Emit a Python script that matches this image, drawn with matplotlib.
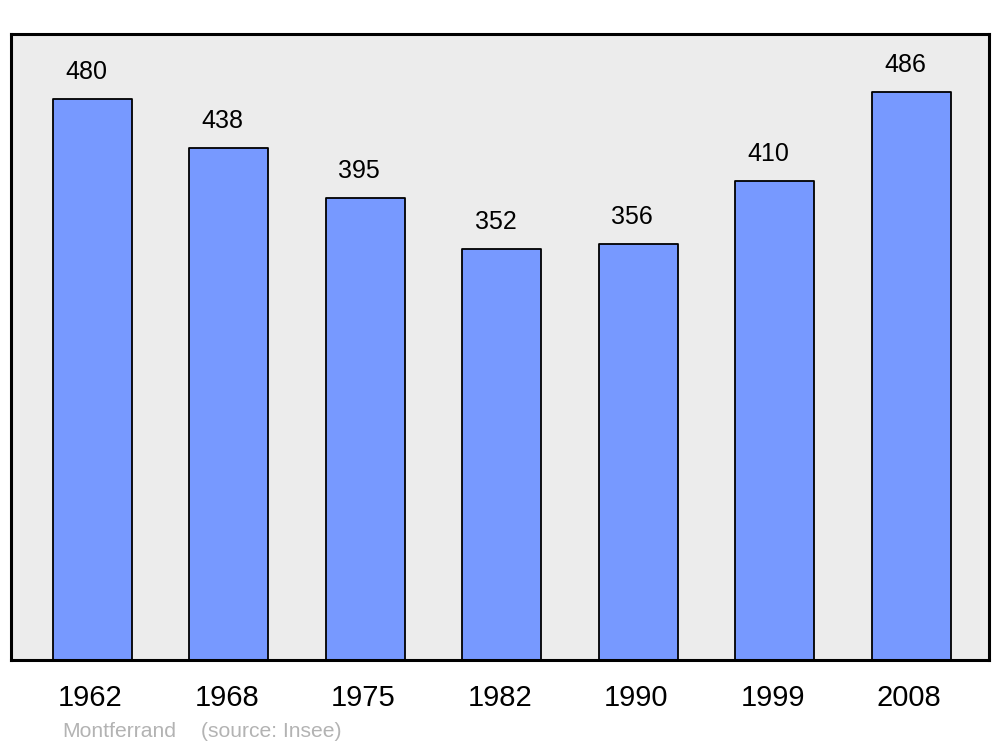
import matplotlib.pyplot as plt
from matplotlib.transforms import ScaledTranslation

plt.rcParams['font.family'] = ['Liberation Sans', 'DejaVu Sans']

years = ['1962', '1968', '1975', '1982', '1990', '1999', '2008']
population = [480, 438, 395, 352, 356, 410, 486]
commune = 'Montferrand'
source = '(source: Insee)'

fig = plt.figure(figsize=(10, 7.47), dpi=100)
ax = fig.add_axes([0.011, 87 / 747, 0.978, 626 / 747])
ax.set_facecolor('#ececec')

xs = range(len(years))
bars = ax.bar(xs, population, width=0.58, color='#7799ff',
              edgecolor='black', linewidth=1.3, joinstyle='round', zorder=2)

# value above each bar (a little left of centre, like the original)
for x, v in zip(xs, population):
    ax.annotate(str(v), (x, v), xytext=(-4.5, 19.5), textcoords='offset points',
                ha='center', va='center', fontsize=18)

ax.set_xlim(-0.595, 6.57)
ax.set_ylim(0, 535.6)
ax.set_yticks([])
ax.set_xticks(list(xs))
ax.set_xticklabels(years, fontsize=21)
ax.tick_params(axis='x', length=0, pad=17)
shift = ScaledTranslation(-2 / 100, 0, fig.dpi_scale_trans)
for lab in ax.get_xticklabels():
    lab.set_transform(lab.get_transform() + shift)

for s in ax.spines.values():
    s.set_linewidth(2.2)
    s.set_joinstyle('round')

fig.text(0.062, 1 - 737 / 747, commune, color='#b3b3b3', fontsize=15.2, va='baseline')
fig.text(0.201, 1 - 737 / 747, source, color='#b3b3b3', fontsize=15.2, va='baseline')

fig.savefig('out.png', dpi=100)
